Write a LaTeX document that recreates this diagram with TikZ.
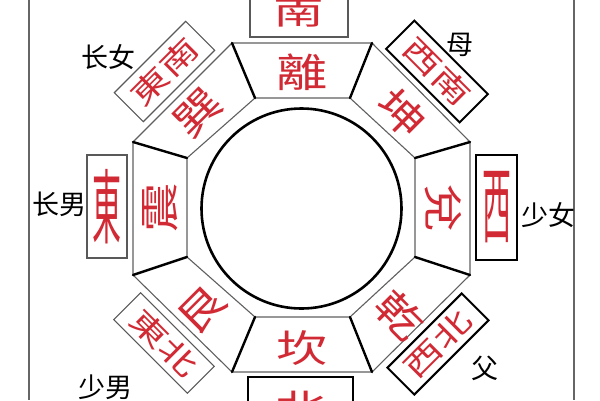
\documentclass[tikz,border=0pt]{standalone}
\usepackage{fontspec}
\newfontfamily\cjk{Noto Sans CJK SC}
\definecolor{guared}{RGB}{210,42,52}
\begin{document}
\begin{tikzpicture}[x=1pt,y=-1pt,
  frameline/.style={draw=gray!80!black, line width=1.2pt},
  edge/.style={draw=gray!75!black, line width=1.1pt},
  spoke/.style={draw=black, line width=2.4pt, line cap=round},
  ring/.style={draw=black, line width=2.6pt},
  gbox/.style={draw=gray!70!black, line width=1.1pt, inner sep=0pt},
  bbox/.style={draw=black, line width=2pt, inner sep=0pt},
  gua/.style={text=guared, font=\cjk\fontsize{38}{38}\selectfont, inner sep=0pt},
  dir/.style={text=guared, font=\cjk\fontsize{29}{29}\selectfont},
  lab/.style={text=black, font=\cjk\fontsize{27}{27}\selectfont, inner sep=0pt}]
\useasboundingbox (0,0) rectangle (600,400);
\clip (0,0) rectangle (600,400);
\fill[white] (0,0) rectangle (600,400);

% frame lines
\coordinate (fl1) at (29,0);  \coordinate (fl2) at (29,400);
\coordinate (fr1) at (574,0); \coordinate (fr2) at (574,400);
\draw[frameline] (fl1) -- (fl2);
\draw[frameline] (fr1) -- (fr2);

% octagon vertices
\coordinate (O1) at (232,43);  \coordinate (O2) at (372,43);
\coordinate (O3) at (470,142); \coordinate (O4) at (470,275);
\coordinate (O5) at (372,372); \coordinate (O6) at (232,372);
\coordinate (O7) at (133,275); \coordinate (O8) at (133,142);
\coordinate (I1) at (255,98);  \coordinate (I2) at (350,98);
\coordinate (I3) at (415,158); \coordinate (I4) at (415,257);
\coordinate (I5) at (350,317); \coordinate (I6) at (255,317);
\coordinate (I7) at (187,257); \coordinate (I8) at (187,158);

\draw[edge] (O1) -- (O2) -- (O3) -- (O4) -- (O5) -- (O6) -- (O7) -- (O8) -- cycle;
\draw[edge] (I1) -- (I2) -- (I3) -- (I4) -- (I5) -- (I6) -- (I7) -- (I8) -- cycle;
\foreach \k in {1,...,8} { \draw[spoke] (O\k) -- (I\k); }

% central circle
\coordinate (ctr) at (301.5,208.5);
\draw[ring] (ctr) circle [radius=100pt];

% trigram names
\node[gua] (li)   at (302,72)  {\scalebox{1.35}[1.05]{離}};
\node[gua, rotate=-45] (kun)  at (402,113) {\scalebox{1.3}[1.05]{坤}};
\node[gua, rotate=-90] (dui)  at (443,208) {\scalebox{1.3}[1.05]{兌}};
\node[gua, rotate=-45] (qian) at (400,315) {\scalebox{1.3}[1.05]{乾}};
\node[gua] (kan)  at (302,348) {\scalebox{1.35}[1.0]{坎}};
\node[gua, rotate=45] (gen)  at (202,310) {\scalebox{1.3}[1.05]{艮}};
\node[gua, rotate=90] (zhen) at (160,208) {\scalebox{1.3}[1.05]{震}};
\node[gua, rotate=45] (xun)  at (198,113) {\scalebox{1.3}[1.05]{巽}};

% direction boxes
\node[gbox, minimum width=98pt, minimum height=44pt] (bS) at (299,15) {};
\node[dir, inner sep=0pt] (dS) at (299,12) {\scalebox{1.75}[1.15]{南}};
\node[bbox, minimum width=105pt, minimum height=40pt] (bN) at (300.5,397) {};
\node[dir, inner sep=0pt] (dN) at (300.5,406) {\scalebox{1.75}[1.15]{北}};
\node[gbox, dir, minimum width=40pt, minimum height=103pt] (dE) at (107,206.5) {\scalebox{1}[2.8]{東}};
\node[bbox, dir, minimum width=41pt, minimum height=105pt] (dW) at (496.5,207.5) {\scalebox{1}[2.9]{西}};
\node[gbox, dir, rotate=45, minimum width=101pt, minimum height=41pt] (dSE) at (164.5,71.5) {\scalebox{1.4}[1]{東南}};
\node[bbox, dir, rotate=-45, minimum width=104pt, minimum height=40pt] (dSW) at (437,71.5) {\scalebox{1.4}[1]{西南}};
\node[gbox, dir, rotate=-45, minimum width=104pt, minimum height=38pt] (dNE) at (164,343) {\scalebox{1.4}[1]{東北}};
\node[bbox, dir, rotate=45, minimum width=105pt, minimum height=38pt] (dNW) at (438,344) {\scalebox{1.4}[1]{西北}};

% family labels
\node[lab] (lxun)  at (108,57)  {长女};
\node[lab] (lkun)  at (460,45)  {母};
\node[lab] (ldui)  at (548,215) {少女};
\node[lab] (lzhen) at (59,204)  {长男};
\node[lab] (lgen)  at (105,387) {少男};
\node[lab] (lqian) at (485,368) {父};
\end{tikzpicture}
\end{document}
